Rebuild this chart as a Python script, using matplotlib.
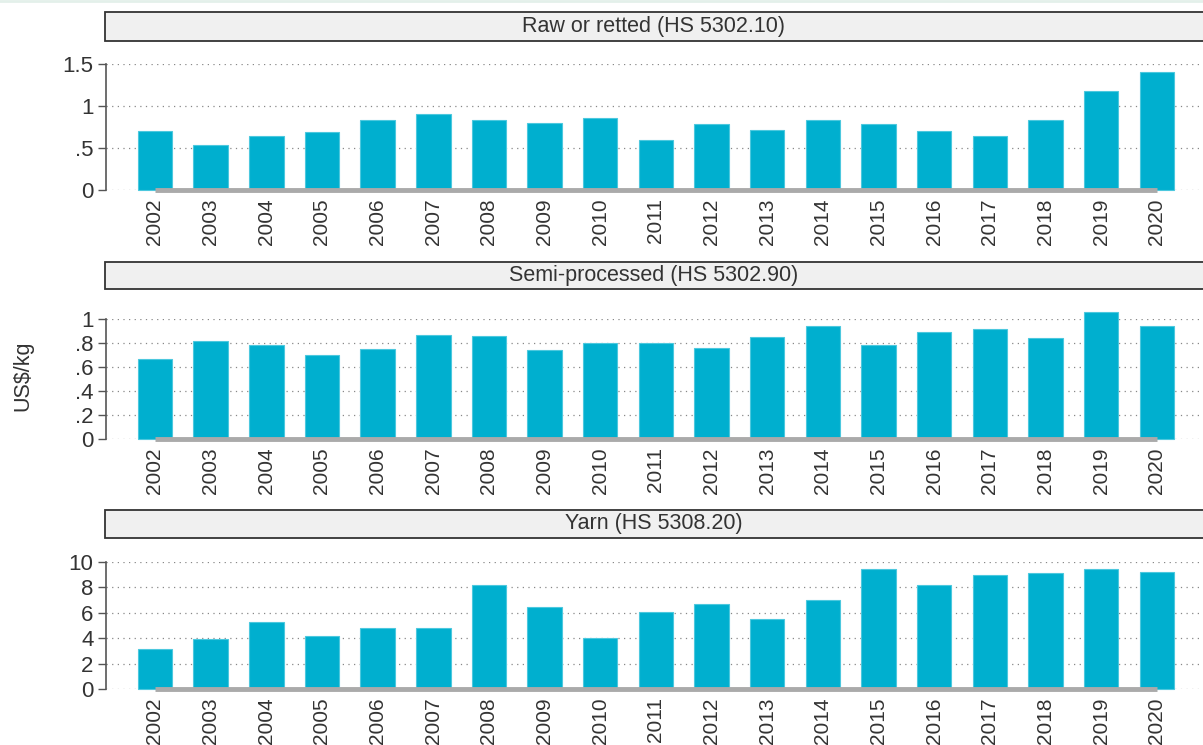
import matplotlib
matplotlib.use("Agg")
import matplotlib.pyplot as plt
from matplotlib.patches import Rectangle
from matplotlib.lines import Line2D

years = [str(y) for y in range(2002, 2021)]

raw_retted = [0.70, 0.53, 0.64, 0.69, 0.83, 0.91, 0.83, 0.80, 0.86, 0.60,
              0.78, 0.72, 0.83, 0.785, 0.70, 0.64, 0.83, 1.18, 1.41]
semi_processed = [0.67, 0.815, 0.78, 0.70, 0.75, 0.87, 0.86, 0.74, 0.80, 0.80,
                  0.76, 0.85, 0.94, 0.78, 0.89, 0.92, 0.84, 1.06, 0.94]
yarn = [3.16, 3.93, 5.28, 4.14, 4.78, 4.80, 8.20, 6.46, 4.00, 6.07,
        6.70, 5.50, 6.99, 9.41, 8.15, 8.97, 9.10, 9.41, 9.20]

titles = ["Raw or retted (HS 5302.10)", "Semi-processed (HS 5302.90)", "Yarn (HS 5308.20)"]
yticks = [[0, 0.5, 1, 1.5], [0, 0.2, 0.4, 0.6, 0.8, 1], [0, 2, 4, 6, 8, 10]]
ytick_labels = [["0", ".5", "1", "1.5"], ["0", ".2", ".4", ".6", ".8", "1"],
                ["0", "2", "4", "6", "8", "10"]]

BAR = "#00afcf"
EDGE = "#4cc8de"
TXT = "#333333"
AXC = "#555555"

W, H = 1203, 745
plt.rcParams["font.family"] = ["Liberation Sans", "DejaVu Sans"]

fig = plt.figure(figsize=(W / 100, H / 100), dpi=100)


def px_rect(x0, y_top, x1, y_bot):
    return [x0 / W, 1 - y_bot / H, (x1 - x0) / W, (y_bot - y_top) / H]


# layout in pixels: (box top, box bottom, axis top value px, zero px)
panels = [(12, 41, 64, 190), (262, 289, 319, 439), (510, 538, 562, 689)]
series = [raw_retted, semi_processed, yarn]

# faint line at the very top
fig.add_artist(Line2D([0, 1], [1 - 1 / H, 1 - 1 / H], transform=fig.transFigure,
                      color="#e3f0ea", lw=2))

x = list(range(len(years)))
for (bt, bb, yt, y0), vals, title, tk, tl in zip(panels, series, titles, yticks, ytick_labels):
    # title strip
    fig.add_artist(Rectangle((105 / W, 1 - bb / H), (W + 10 - 105) / W, (bb - bt) / H,
                             transform=fig.transFigure, facecolor="#f0f0f0",
                             edgecolor="#333333", lw=1.3, clip_on=False))
    fig.text((105 + W) / 2 / W, 1 - (bt + bb) / 2 / H, title, ha="center", va="center",
             fontsize=15.5, color=TXT)

    ax = fig.add_axes(px_rect(106, yt, W, y0))
    top = tk[-1]
    ax.set_ylim(0, top)
    ax.set_xlim(-0.88, 18.83)
    for yv in tk:
        ax.axhline(yv, color="#888888", lw=0.9, ls=(0, (1, 3.5)), zorder=0)
    ax.bar(x, vals, width=0.62, color=BAR, edgecolor=EDGE, lw=0.8, zorder=2, clip_on=False)
    ax.plot([0, 18], [0, 0], color="#aaaaaa", lw=3.5, zorder=3, solid_capstyle="butt",
            clip_on=False)

    for s in ["top", "right", "bottom"]:
        ax.spines[s].set_visible(False)
    ax.spines["left"].set_color(AXC)
    ax.spines["left"].set_linewidth(1.2)
    ax.set_yticks(tk)
    ax.set_yticklabels(tl)
    ax.tick_params(axis="y", length=6, width=1.0, color=AXC, labelsize=16,
                   labelcolor=TXT, pad=3)
    ax.set_xticks(x)
    ax.set_xticklabels(years, rotation=90)
    ax.tick_params(axis="x", length=0, labelsize=15, labelcolor=TXT, pad=6)
    ax.patch.set_visible(False)

fig.text(23 / W, 1 - 376 / H, "US\\$/kg", rotation=90, ha="center", va="center",
         fontsize=15.5, color=TXT)

fig.savefig("out.png", dpi=100)
